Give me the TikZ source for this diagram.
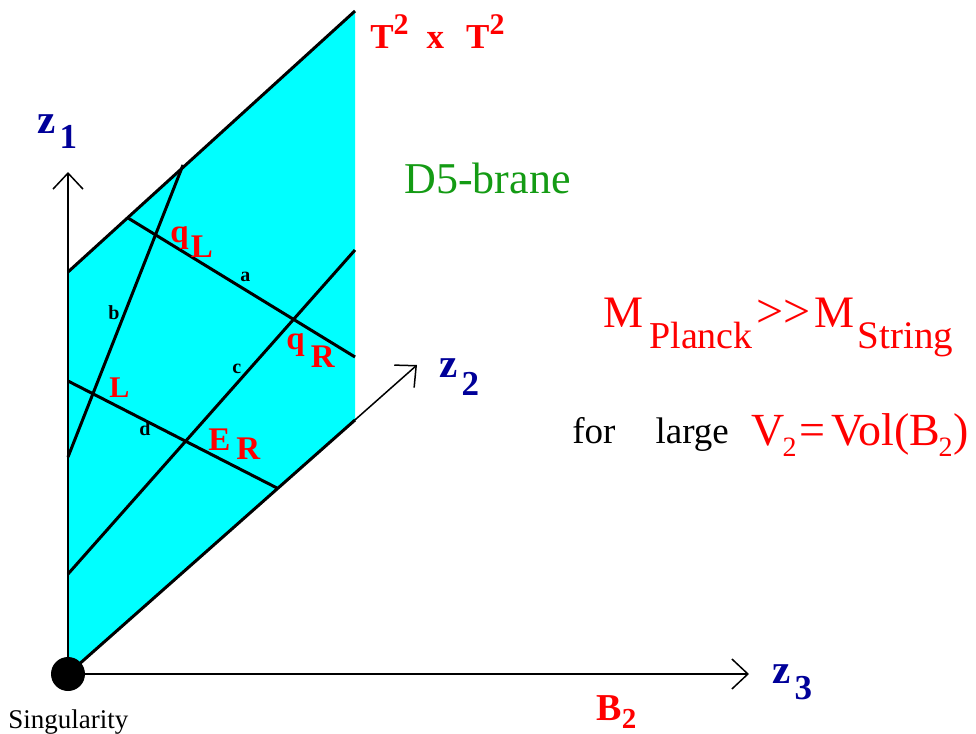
\documentclass[tikz,border=0pt]{standalone}
\usepackage{fontspec}
\setmainfont{Liberation Serif}
\usetikzlibrary{arrows.meta}
\definecolor{branecyan}{HTML}{00FFFF}
\definecolor{axisblue}{HTML}{000099}
\definecolor{branegreen}{HTML}{149B14}
\definecolor{labred}{HTML}{FF0000}
\newcommand{\fsz}[1]{\fontsize{#1}{#1}\selectfont}
\newcommand{\low}[3]{\raisebox{-#1}{\fsz{#2}#3}}
\tikzset{
  axislab/.style={text=axisblue, font=\bfseries\fsz{20.5pt}, inner sep=0pt, anchor=base west},
  redlab/.style={text=labred, font=\bfseries\fsz{16.5pt}, inner sep=0pt, anchor=base west},
  seglab/.style={font=\bfseries\fsz{10pt}, inner sep=0pt, anchor=base west},
  plainlab/.style={inner sep=0pt, anchor=base west},
  string/.style={line width=1.5pt},
  axis/.style={line width=0.75pt, ->}
}

\begin{document}
\begin{tikzpicture}[x=0.5pt, y=-0.5pt, >={Straight Barb[length=8pt,width=15pt]}]
\useasboundingbox (0,0) rectangle (976,734);
\coordinate (O) at (68,674);
\coordinate (tl) at (68,272); \coordinate (tr) at (355,11); \coordinate (br) at (355,420);
\coordinate (z1tip) at (68,172); \coordinate (z2tip) at (417,365); \coordinate (z3tip) at (749,674);

% the brane
\fill[branecyan] (O) -- (tl) -- (tr) -- (br) -- cycle;
\coordinate (a0) at (128,218); \coordinate (a1) at (355,357);
\coordinate (b0) at (183,165); \coordinate (b1) at (68,457);
\coordinate (c0) at (68,574);  \coordinate (c1) at (355,250);
\coordinate (d0) at (68,381);  \coordinate (d1) at (277,488);
\foreach \s in {a,b,c,d}{\draw[string] (\s0) -- (\s1);}
\draw[string] (tl) -- (tr);
\draw[string] (O) -- (br);

% axes
\foreach \t in {z1tip,z2tip,z3tip}{\draw[axis] (O) -- (\t);}
\fill (O) circle (17);

\node[axislab] (zone) at (37,133) {z\kern2pt\low{7.5pt}{17.5pt}{1}};
\node[axislab] (ztwo) at (439,377) {z\kern2pt\low{9pt}{17.5pt}{2}};
\node[axislab] (zthree) at (772,683) {z\kern2pt\low{8pt}{17.5pt}{3}};
\node[redlab, font=\bfseries\fsz{19pt}] (btwo) at (596,720) {B\low{4pt}{14.5pt}{2}};
\node[redlab, font=\bfseries\fsz{17.5pt}] (torus) at (370,48)
  {T\raisebox{7pt}{\fsz{15pt}2}\hspace{9pt}x\hspace{11pt}T\raisebox{7pt}{\fsz{15pt}2}};

\node[redlab] (qL) at (170,242) {q\kern1pt\low{7.5pt}{16.5pt}{L}};
\node[redlab] (qR) at (286,349) {q\kern3pt\low{9pt}{16.5pt}{R}};
\node[redlab] (ER) at (208,450) {E\kern3pt\low{4.5pt}{16.5pt}{R}};
\node[redlab, font=\bfseries\fsz{15pt}] (Lpt) at (109,397) {L};
\node[seglab] (la) at (240,281) {a};
\node[seglab] (lb) at (108,319) {b};
\node[seglab] (lc) at (232,373) {c};
\node[seglab] (ld) at (139,435) {d};

\node[plainlab, text=branegreen, font=\fsz{22pt}] (brane) at (404,193) {D5-brane};
\node[plainlab, text=labred, font=\fsz{22.5pt}] (mass) at (603,327)
  {M\kern3pt\low{10.5pt}{19pt}{Planck}\kern2pt{\fsz{24pt}>\kern0pt>}\kern2pt M\kern1.5pt\low{10.5pt}{19.5pt}{String}};
\node[plainlab, font=\fsz{18.5pt}] (forlarge) at (572,443) {for\hspace{20pt}large};
\node[plainlab, text=labred, font=\fsz{23pt}] (vol) at (751,445)
  {V\kern-1pt\low{5.5pt}{14pt}{2}\kern1.5pt=\kern3pt Vol(B\kern-1pt\low{5.5pt}{14pt}{2}\kern0.5pt)};
\node[plainlab, font=\fsz{13.5pt}] (sing) at (8,728) {Singularity};
\end{tikzpicture}
\end{document}
